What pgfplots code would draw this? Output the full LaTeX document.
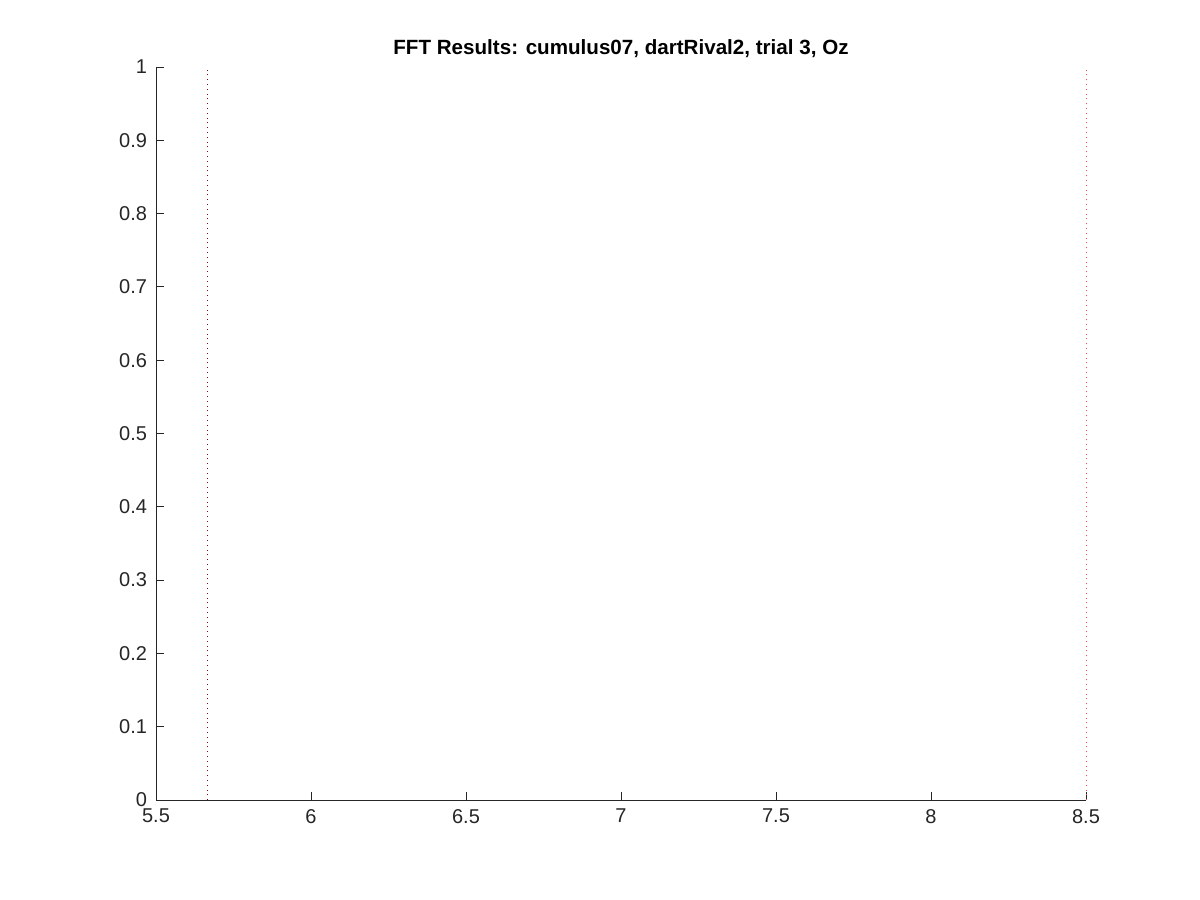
\documentclass[border=0pt]{standalone}
\usepackage{pgfplots}
\pgfplotsset{compat=1.18}
\usepackage{fontspec}
\setmainfont{Liberation Sans}
\definecolor{darkred}{rgb}{0.6,0,0}
\definecolor{lightred}{rgb}{1,0.3,0.3}
\begin{document}
\begin{tikzpicture}[x=1pt,y=1pt]
\fill[white] (0,0) rectangle (600,450);
\begin{axis}[at={(78pt,50pt)},anchor=south west,scale only axis,
 width=465pt,height=366.5pt,xmin=5.5,xmax=8.5,ymin=0,ymax=1,
 axis x line*=bottom, axis y line*=left,
 axis line style={black!85,line width=0.4pt},
 xtick={5.5,6,...,8.5},ytick={0,0.1,...,1},
 tick align=inside, major tick length=4pt,
 tick style={black!85,line width=0.4pt},
 yticklabel style={/pgf/number format/fixed,/pgf/number format/precision=1,xshift=-1pt},
 xticklabel style={/pgf/number format/fixed,/pgf/number format/precision=1,yshift=-1pt},
 /pgf/number format/assume math mode=true,
 ticklabel style={font=\fontsize{10}{11}\selectfont,text=black!85},
 title={\textbf{FFT Results: cumulus07, dartRival2, trial 3, Oz}},
 title style={font=\fontsize{10.3}{12}\selectfont,yshift=-5pt},
 clip=false]
\addplot[color=darkred,dotted,line width=0.4pt] coordinates {(5.6667,0) (5.6667,1)};
\addplot[color=lightred,dotted,line width=0.4pt] coordinates {(8.5,0) (8.5,1)};
\end{axis}
\end{tikzpicture}
\end{document}
